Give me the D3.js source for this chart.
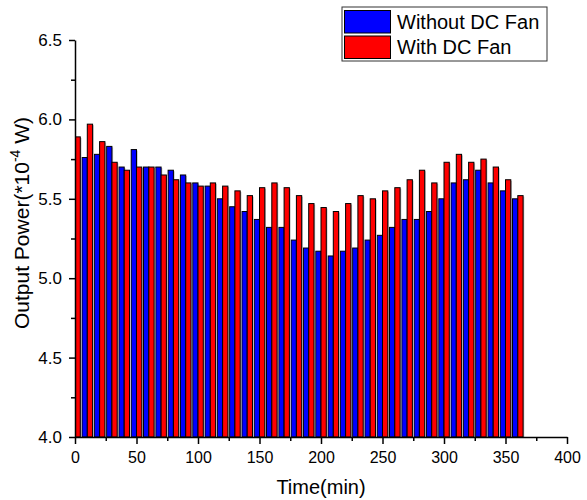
<!DOCTYPE html>
<html>
<head>
<meta charset="utf-8">
<script src="https://cdn.jsdelivr.net/npm/d3@7"></script>
<style>
  body { margin: 0; background: #fff; }
  text { font-family: "Liberation Sans", Arial, sans-serif; }
</style>
</head>
<body>
<svg id="chart" width="587" height="500"></svg>
<script>
const times = [0,10,20,30,40,50,60,70,80,90,100,110,120,130,140,150,160,170,180,190,200,210,220,230,240,250,260,270,280,290,300,310,320,330,340,350,360];
const withoutFan = [null,5.76,5.78,5.83,5.70,5.81,5.70,5.70,5.68,5.65,5.60,5.58,5.50,5.45,5.42,5.37,5.32,5.32,5.24,5.19,5.17,5.14,5.17,5.19,5.24,5.27,5.32,5.37,5.37,5.42,5.50,5.60,5.62,5.68,5.60,5.55,5.50];
const withFan = [5.89,5.97,5.86,5.73,5.68,5.70,5.70,5.65,5.62,5.60,5.58,5.60,5.58,5.55,5.52,5.57,5.60,5.57,5.52,5.47,5.445,5.42,5.47,5.52,5.50,5.55,5.57,5.62,5.68,5.60,5.73,5.78,5.73,5.75,5.70,5.62,5.52];
const xTicks = [0,50,100,150,200,250,300,350,400];
const yTicks = [4.0,4.5,5.0,5.5,6.0,6.5];
const seriesNames = ["Without DC Fan","With DC Fan"];
const seriesColors = ["#0000ff","#ff0000"];

const svg = d3.select("#chart");
const mLeft = 75, mRight = 567, mTop = 40, mBottom = 437;
const x = d3.scaleLinear().domain([0,400]).range([mLeft,mRight]);
const y = d3.scaleLinear().domain([4.0,6.5]).range([mBottom,mTop]);
const barW = 4.3; // minutes

svg.append("clipPath").attr("id","clip").append("rect")
  .attr("x",mLeft).attr("y",0).attr("width",mRight-mLeft).attr("height",mBottom);

const g = svg.append("g").attr("clip-path","url(#clip)");

function drawSeries(vals, offset, color) {
  const d = times.map((t,i)=>({t, v: vals[i]})).filter(e=>e.v!=null);
  g.selectAll(null).data(d).enter().append("rect")
    .attr("x", e=>x(e.t+offset)+1.2)
    .attr("y", e=>y(e.v)+1)
    .attr("width", x(barW)-x(0))
    .attr("height", e=>mBottom-y(e.v))
    .attr("fill","#bdbdbd");
  g.selectAll(null).data(d).enter().append("rect")
    .attr("x", e=>x(e.t+offset))
    .attr("y", e=>y(e.v))
    .attr("width", x(barW)-x(0))
    .attr("height", e=>mBottom-y(e.v))
    .attr("fill",color).attr("stroke","#000").attr("stroke-width",1);
}
drawSeries(withoutFan, -barW, seriesColors[0]);
drawSeries(withFan, 0, seriesColors[1]);

const yAxis = d3.axisLeft(y).tickValues(yTicks).tickFormat(d3.format(".1f")).tickSize(6).tickSizeOuter(0).tickPadding(7);
const yg = svg.append("g").attr("transform",`translate(${mLeft},0)`).call(yAxis);
const yMinor = d3.axisLeft(y).tickValues(d3.range(4.25,6.5,0.5)).tickFormat("").tickSize(4).tickSizeOuter(0);
svg.append("g").attr("transform",`translate(${mLeft},0)`).call(yMinor).select(".domain").remove();

const xAxis = d3.axisBottom(x).tickValues(xTicks).tickFormat(d3.format("d")).tickSize(7).tickSizeOuter(0).tickPadding(8);
const xg = svg.append("g").attr("transform",`translate(0,${mBottom})`).call(xAxis);
const xMinor = d3.axisBottom(x).tickValues(d3.range(25,400,50)).tickFormat("").tickSize(4).tickSizeOuter(0);
svg.append("g").attr("transform",`translate(0,${mBottom})`).call(xMinor).select(".domain").remove();

svg.selectAll(".domain").attr("stroke","#000").attr("stroke-width",1.5);
svg.selectAll(".tick line").attr("stroke","#000").attr("stroke-width",1.5);
svg.selectAll(".tick text").attr("fill","#000").attr("font-family","Liberation Sans, Arial, sans-serif");
xg.selectAll(".tick text").attr("font-size",16);
yg.selectAll(".tick text").attr("font-size",17);

svg.append("text").attr("x",(mLeft+mRight)/2).attr("y",494).attr("text-anchor","middle")
  .attr("font-size",20).text("Time(min)");
const yt = svg.append("text").attr("transform",`translate(29,223) rotate(-90)`).attr("text-anchor","middle").attr("font-size",21);
yt.append("tspan").text("Output Power(*10");
yt.append("tspan").attr("font-size",14).attr("dy",-9).text("-4");
yt.append("tspan").attr("dy",9).text(" W)");

svg.append("rect").attr("x",342).attr("y",7).attr("width",205).attr("height",54)
  .attr("fill","#fff").attr("stroke","#333").attr("stroke-width",1);
seriesNames.forEach((n,i)=>{
  svg.append("rect").attr("x",344.5).attr("y",10.5+i*25.5).attr("width",46).attr("height",22.5)
    .attr("fill",seriesColors[i]).attr("stroke","#000").attr("stroke-width",1);
  svg.append("text").attr("x",397).attr("y",28.5+i*25).attr("font-size",20).text(n);
});
</script>
</body>
</html>
